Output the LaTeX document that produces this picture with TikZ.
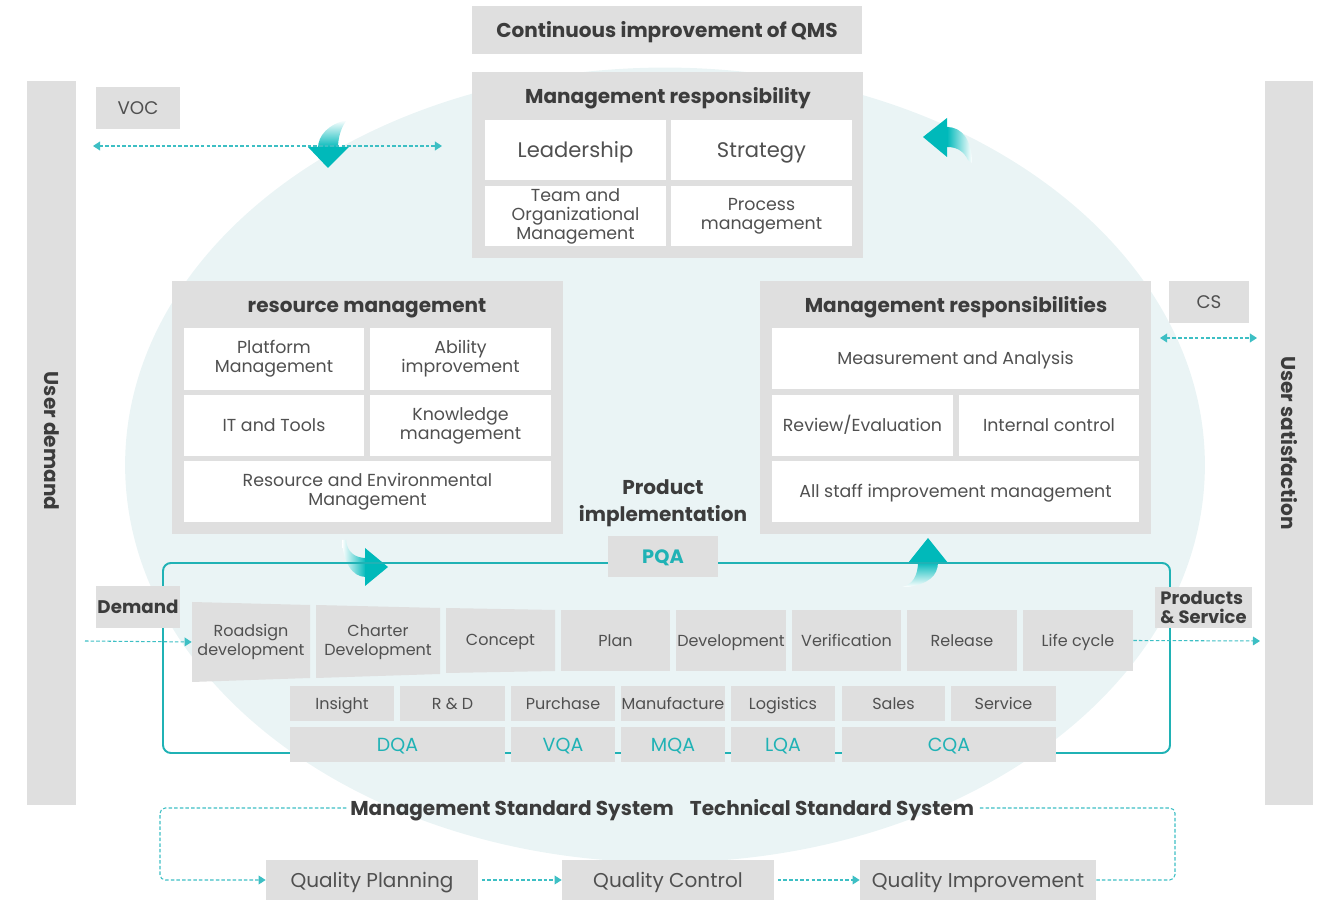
\documentclass[tikz,border=0pt]{standalone}
\usepackage{fontspec}
\setmainfont{Poppins}
\usetikzlibrary{arrows.meta}
\definecolor{boxgray}{HTML}{DFDFDF}
\definecolor{txtgray}{HTML}{505050}
\definecolor{hdgray}{HTML}{3C3C3C}
\definecolor{ellfill}{HTML}{EAF4F5}
\definecolor{frameteal}{HTML}{20B2B5}
\definecolor{arrteal}{HTML}{00B9BA}
\definecolor{dashteal}{HTML}{3DBFC4}
\begin{document}
\begin{tikzpicture}[x=0.02cm,y=-0.02cm,>={Triangle[length=4pt,width=5pt]},
        gbox/.style={fill=boxgray,text=txtgray,inner sep=0pt,align=center},
        wbox/.style={fill=white,text=txtgray,inner sep=0pt,align=center},
        hd/.style={text=hdgray,font=\fontsize{11.4}{15.4}\selectfont\bfseries,align=center},
        fl/.style={font=\fontsize{12}{14}\selectfont},
        fm/.style={font=\fontsize{9.9}{10.8}\selectfont},
        fs/.style={font=\fontsize{9.1}{10.8}\selectfont},
        sl/.style={text height=#1,text depth=0pt},
        sl/.default=7pt,
        link/.style={draw=dashteal,line width=0.6pt,dash pattern=on 2pt off 1.2pt},
    ]
        \useasboundingbox (0,0) rectangle (1329,901);
        \fill[ellfill] (665,465) ellipse [x radius=10.8cm, y radius=7.95cm];
        % side bars
        \node[gbox,minimum width=0.98cm,minimum height=14.48cm] (udem) at (51.5,443) {};
        \node[hd,sl=8pt,rotate=-90] at (51.5,441) {User demand};
        \node[gbox,minimum width=0.96cm,minimum height=14.48cm] (usat) at (1289,443) {};
        \node[hd,sl=8pt,rotate=-90] at (1289,443) {User satisfaction};
        % bent arrows
        \shade[top color=white,bottom color=arrteal] (347,120) .. controls (328,124) and (318,136) .. (318,148) -- (338,148) .. controls (338,138) and (341,127) .. (347,120) -- cycle;
        \fill[arrteal] (308,147) -- (349,147) -- (328,168) -- cycle;
        \shade[left color=arrteal,right color=white] (947,127) .. controls (962,127) and (972,140) .. (972,163) -- (968,160) .. controls (964,152) and (958,147) .. (947,147) -- cycle;
        \fill[arrteal] (923,137) -- (947,118) -- (947,157) -- cycle;
        \shade[left color=white,right color=arrteal] (342,540) .. controls (343,562) and (352,577) .. (366,577) -- (366,558) .. controls (355,558) and (347,552) .. (346,540) -- cycle;
        \fill[arrteal] (365,548) -- (388,567) -- (365,586) -- cycle;
        \shade[top color=arrteal,bottom color=white] (918,562) .. controls (918,576) and (912,585) .. (902,587) -- (908,587) .. controls (928,584) and (938,576) .. (938,562) -- cycle;
        \fill[arrteal] (908,563) -- (928,538) -- (948,563) -- cycle;
        % product frame
        \draw[frameteal,line width=1.1pt,rounded corners=4.5pt] (163,563) rectangle (1170,753);
        % top
        \node[gbox,hd,sl=8pt,minimum width=7.8cm,minimum height=0.96cm] (cqms) at (667,30) {Continuous improvement of QMS};
        \node[gbox,minimum width=7.82cm,minimum height=3.72cm] (mresp) at (667.5,165) {};
        \node[hd,sl=8pt] at (668,96) {Management responsibility};
        \node[wbox,fl,sl=8.4pt,minimum width=3.62cm,minimum height=1.2cm] (lead) at (575.5,150) {Leadership};
        \node[wbox,fl,sl=8.4pt,minimum width=3.62cm,minimum height=1.2cm] (strat) at (761.5,150) {Strategy};
        \node[wbox,fm,minimum width=3.62cm,minimum height=1.2cm] (team) at (575.5,216) {Team and\\Organizational\\Management};
        \node[wbox,fm,minimum width=3.62cm,minimum height=1.2cm] (procm) at (761.5,216) {Process\\management};
        \node[gbox,sl=7.3pt,font=\fontsize{10.4}{12}\selectfont,minimum width=1.68cm,minimum height=0.84cm] (voc) at (138,108) {VOC};
        \coordinate (vocl) at (93,146);
        \coordinate (vocr) at (442,146);
        \draw[link,<->] (vocl) -- (vocr);
        % resource management
        \node[gbox,minimum width=7.82cm,minimum height=5.06cm] (res) at (367.5,407.5) {};
        \node[hd,sl=8pt] at (367,305) {resource management};
        \node[wbox,fm,minimum width=3.6cm,minimum height=1.24cm] (plat) at (274,359) {Platform\\Management};
        \node[wbox,fm,minimum width=3.62cm,minimum height=1.24cm] (abil) at (460.5,359) {Ability\\improvement};
        \node[wbox,fm,sl,minimum width=3.6cm,minimum height=1.22cm] (itt) at (274,425.5) {IT and Tools};
        \node[wbox,fm,minimum width=3.62cm,minimum height=1.22cm] (know) at (460.5,425.5) {Knowledge\\management};
        \node[wbox,fm,minimum width=7.34cm,minimum height=1.22cm] (renv) at (367.5,491.5) {Resource and Environmental\\Management};
        % management responsibilities
        \node[gbox,minimum width=7.82cm,minimum height=5.06cm] (mres) at (955.5,407.5) {};
        \node[hd,sl=8pt] at (956,305) {Management responsibilities};
        \node[wbox,fm,sl,minimum width=7.34cm,minimum height=1.22cm] (meas) at (955.5,358.5) {Measurement and Analysis};
        \node[wbox,fm,sl,minimum width=3.62cm,minimum height=1.22cm] (rev) at (862.5,425.5) {Review/Evaluation};
        \node[wbox,fm,sl,minimum width=3.6cm,minimum height=1.22cm] (intc) at (1049,425.5) {Internal control};
        \node[wbox,fm,sl,minimum width=7.34cm,minimum height=1.22cm] (staff) at (955.5,491.5) {All staff improvement management};
        \node[gbox,sl=7.3pt,font=\fontsize{10.4}{12}\selectfont,minimum width=1.6cm,minimum height=0.84cm] (cs) at (1209,302) {CS};
        \coordinate (csl) at (1160,338);
        \coordinate (csr) at (1257,338);
        \draw[link,<->] (csl) -- (csr);
        % product implementation
        \node[hd] (pimp) at (663,503) {Product\\implementation};
        \node[gbox,sl=7.7pt,text=frameteal,font=\fontsize{11}{12}\selectfont\bfseries,minimum width=2.2cm,minimum height=0.82cm] (pqa) at (663,556.5) {PQA};
        \node[gbox,sl=7.3pt,text=hdgray,font=\fontsize{10.4}{12}\selectfont\bfseries,minimum width=1.68cm,minimum height=0.84cm] (dmd) at (138,607) {Demand};
        \node[gbox,text=hdgray,font=\fontsize{10.2}{10.4}\selectfont\bfseries,align=left,minimum width=1.94cm,minimum height=0.82cm] (prs) at (1203.5,607.5) {Products\\\& Service};
        % process row
        \fill[boxgray] (192,602) -- (310,605) -- (310,678) -- (192,682) -- cycle;
        \fill[boxgray] (316,605) -- (440,608) -- (440,674) -- (316,678) -- cycle;
        \fill[boxgray] (446,608) -- (555,610) -- (555,671) -- (446,673) -- cycle;
        \node[fs,text=txtgray,align=center,inner sep=0pt,minimum width=2.36cm] (road) at (251,642) {Roadsign\\development};
        \node[fs,text=txtgray,align=center,inner sep=0pt,minimum width=2.48cm] (chart) at (378,642) {Charter\\Development};
        \node[fs,sl=6.4pt,text=txtgray,inner sep=0pt] (conc) at (500.5,640) {Concept};
        \node[gbox,fs,sl=6.4pt,minimum width=2.18cm,minimum height=1.22cm] (plan) at (615.5,640.5) {Plan};
        \node[gbox,fs,sl=6.4pt,minimum width=2.2cm,minimum height=1.22cm] (devl) at (731,640.5) {Development};
        \node[gbox,fs,sl=6.4pt,minimum width=2.18cm,minimum height=1.22cm] (veri) at (846.5,640.5) {Verification};
        \node[gbox,fs,sl=6.4pt,minimum width=2.2cm,minimum height=1.22cm] (rele) at (962,640.5) {Release};
        \node[gbox,fs,sl=6.4pt,minimum width=2.2cm,minimum height=1.22cm] (life) at (1078,640.5) {Life cycle};
        \coordinate (dmdin) at (85,641);
        \coordinate (prsout) at (1260,641);
        \draw[link,->] (dmdin) -- (road.west);
        \draw[link,->] (life.east) -- (prsout);
        % functions
        \node[gbox,fs,sl=6.4pt,minimum width=2.08cm,minimum height=0.7cm] (ins) at (342,703.5) {Insight};
        \node[gbox,fs,sl=6.4pt,minimum width=2.1cm,minimum height=0.7cm] (rnd) at (452.5,703.5) {R \& D};
        \node[gbox,fs,sl=6.4pt,minimum width=2.08cm,minimum height=0.7cm] (purc) at (563,703.5) {Purchase};
        \node[gbox,fs,sl=6.4pt,minimum width=2.08cm,minimum height=0.7cm] (manu) at (673,703.5) {Manufacture};
        \node[gbox,fs,sl=6.4pt,minimum width=2.08cm,minimum height=0.7cm] (logi) at (783,703.5) {Logistics};
        \node[gbox,fs,sl=6.4pt,minimum width=2.06cm,minimum height=0.7cm] (sale) at (893.5,703.5) {Sales};
        \node[gbox,fs,sl=6.4pt,minimum width=2.1cm,minimum height=0.7cm] (serv) at (1003.5,703.5) {Service};
        % quality assurance
        \node[gbox,sl=7.6pt,text=frameteal,font=\fontsize{10.8}{12}\selectfont,minimum width=4.3cm,minimum height=0.7cm] (dqa) at (397.5,744.5) {DQA};
        \node[gbox,sl=7.6pt,text=frameteal,font=\fontsize{10.8}{12}\selectfont,minimum width=2.08cm,minimum height=0.7cm] (vqa) at (563,744.5) {VQA};
        \node[gbox,sl=7.6pt,text=frameteal,font=\fontsize{10.8}{12}\selectfont,minimum width=2.08cm,minimum height=0.7cm] (mqa) at (673,744.5) {MQA};
        \node[gbox,sl=7.6pt,text=frameteal,font=\fontsize{10.8}{12}\selectfont,minimum width=2.08cm,minimum height=0.7cm] (lqa) at (783,744.5) {LQA};
        \node[gbox,sl=7.6pt,text=frameteal,font=\fontsize{10.8}{12}\selectfont,minimum width=4.28cm,minimum height=0.7cm] (cqa) at (949,744.5) {CQA};
        % standard systems
        \node[hd,sl=8pt,inner sep=2pt] (mss) at (512,808) {Management Standard System};
        \node[hd,sl=8pt,inner sep=2pt] (tss) at (832,808) {Technical Standard System};
        \node[gbox,sl=8pt,font=\fontsize{11.4}{13}\selectfont,minimum width=4.24cm,minimum height=0.8cm] (qp) at (372,880) {Quality Planning};
        \node[gbox,sl=8pt,font=\fontsize{11.4}{13}\selectfont,minimum width=4.24cm,minimum height=0.8cm] (qc) at (668,880) {Quality Control};
        \node[gbox,sl=8pt,font=\fontsize{11.4}{13}\selectfont,minimum width=4.72cm,minimum height=0.8cm] (qi) at (978,880) {Quality Improvement};
        \draw[link,->,rounded corners=3pt] (mss.west) -| (160,880) -- (qp.west);
        \draw[link,->,shorten <=2pt] (qp.east) -- (qc.west);
        \draw[link,->,shorten <=2pt] (qc.east) -- (qi.west);
        \draw[link,rounded corners=3pt] (qi.east) -| (1175,808) -- (tss.east);
    \end{tikzpicture}
\end{document}
